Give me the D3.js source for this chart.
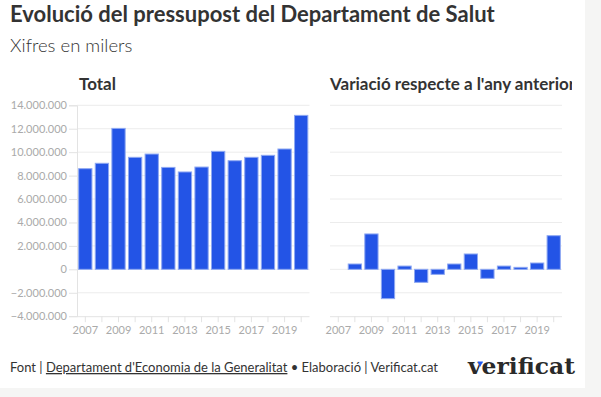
<!DOCTYPE html>
<html>
<head>
<meta charset="utf-8">
<script src="https://cdn.jsdelivr.net/npm/d3@7"></script>
<style>
  html, body { margin: 0; padding: 0; background: #f5f5f4; }
  svg { display: block; }
  text { font-family: Lato, "Noto Sans", sans-serif; }
</style>
</head>
<body>
<div id="chart"></div>
<script>
// data (thousands of euros)
const years = [2007, 2008, 2009, 2010, 2011, 2012, 2013, 2014, 2015, 2016, 2017, 2018, 2019, 2020];
const total = [8590000, 9050000, 12030000, 9560000, 9840000, 8700000, 8310000, 8730000, 10070000, 9270000, 9560000, 9730000, 10270000, 13140000];
const variation = [null, 455000, 3020000, -2500000, 280000, -1110000, -430000, 455000, 1310000, -770000, 280000, 170000, 540000, 2870000];
const yTicks = [-4000000, -2000000, 0, 2000000, 4000000, 6000000, 8000000, 10000000, 12000000, 14000000];
const yearLabels = [2007, 2009, 2011, 2013, 2015, 2017, 2019];

const width = 601, height = 397;
const barFill = "#2354e6", barStroke = "#8ea8f2";
const gridColor = "#ececec", tickColor = "#aaaaaa";

const fmt = d3.formatLocale({decimal: ",", thousands: ".", grouping: [3], currency: ["", "€"]}).format(",");

const svg = d3.select("#chart").append("svg")
    .attr("width", width)
    .attr("height", height);

// white card
svg.append("rect").attr("width", 585).attr("height", 388).attr("fill", "#fff");

// titles
svg.append("text")
    .attr("x", 10).attr("y", 22)
    .attr("font-size", 22).attr("font-weight", 700).attr("fill", "#333")
    .text("Evolució del pressupost del Departament de Salut");
svg.append("text")
    .attr("x", 10).attr("y", 52)
    .attr("font-size", 18.5).attr("font-weight", 300).attr("fill", "#333")
    .text("Xifres en milers");

const y = d3.scaleLinear().domain([-4000000, 14000000]).range([316.2, 105.3]);

function panel(x0, x1, values, showAxis) {
    const g = svg.append("g");
    const x = d3.scaleBand().domain(years).range([x0, x1]).paddingInner(0.2).paddingOuter(0.1);

    // gridlines
    g.selectAll(".grid").data(yTicks.filter(d => d > -4000000))
        .enter().append("line")
        .attr("x1", x0).attr("x2", x1)
        .attr("y1", d => y(d)).attr("y2", d => y(d))
        .attr("stroke", gridColor).attr("stroke-width", 1);

    if (showAxis) {
        const ya = g.append("g")
            .attr("transform", `translate(${x0},0)`)
            .call(d3.axisLeft(y).tickValues(yTicks).tickFormat(fmt).tickSize(8).tickPadding(2));
        ya.select(".domain").attr("stroke", "#e3e3e3");
        ya.selectAll(".tick line").attr("stroke", "#e3e3e3");
        ya.selectAll("text").attr("fill", tickColor).attr("font-size", 11).style("font-family", "Lato, sans-serif");
    }

    const xa = g.append("g")
        .attr("transform", `translate(0,${y(-4000000)})`)
        .call(d3.axisBottom(x).tickSize(6).tickPadding(4).tickFormat(d => yearLabels.includes(d) ? d : ""));
    xa.select(".domain").attr("stroke", "#e3e3e3").attr("d", `M${x0},0.5H${x1}`);
    xa.selectAll(".tick line").attr("stroke", "#e3e3e3");
    xa.selectAll("text").attr("fill", tickColor).attr("font-size", 11).style("font-family", "Lato, sans-serif");

    // bars
    g.selectAll(".bar")
        .data(years.map((yr, i) => ({year: yr, value: values[i]})).filter(d => d.value !== null))
        .enter().append("rect")
        .attr("x", d => x(d.year))
        .attr("width", x.bandwidth())
        .attr("y", d => y(Math.max(0, d.value)))
        .attr("height", d => Math.abs(y(d.value) - y(0)))
        .attr("fill", barFill)
        .attr("stroke", barStroke)
        .attr("stroke-width", 1);

    return g;
}

panel(77, 309.5, total, true);
panel(330, 562, variation, false);

// panel titles
svg.append("text")
    .attr("x", 79).attr("y", 90)
    .attr("font-size", 17).attr("font-weight", 700).attr("fill", "#333")
    .text("Total");

svg.append("clipPath").attr("id", "clipRight")
    .append("rect").attr("x", 320).attr("y", 60).attr("width", 252).attr("height", 40);
svg.append("text")
    .attr("clip-path", "url(#clipRight)")
    .attr("x", 330).attr("y", 90)
    .attr("font-size", 17).attr("font-weight", 700).attr("fill", "#333")
    .text("Variació respecte a l'any anterior");

// footer
const foot = svg.append("text")
    .attr("x", 10).attr("y", 372)
    .attr("font-size", 13).attr("fill", "#333");
foot.append("tspan").text("Font | ");
foot.append("tspan").attr("text-decoration", "underline").text("Departament d'Economia de la Generalitat");
foot.append("tspan").text(" • Elaboració | Verificat.cat");

// logo
svg.append("text")
    .attr("x", 468).attr("y", 374)
    .attr("font-size", 23).attr("font-weight", 700).attr("fill", "#2a2a2a")
    .style("font-family", "'DejaVu Serif', serif")
    .attr("textLength", 107).attr("lengthAdjust", "spacingAndGlyphs")
    .text("verificat");
svg.append("path")
    .attr("d", "M477.5,361.5 L483,361.5 L480,367 Z")
    .attr("fill", "#1e56f0");
</script>
</body>
</html>
